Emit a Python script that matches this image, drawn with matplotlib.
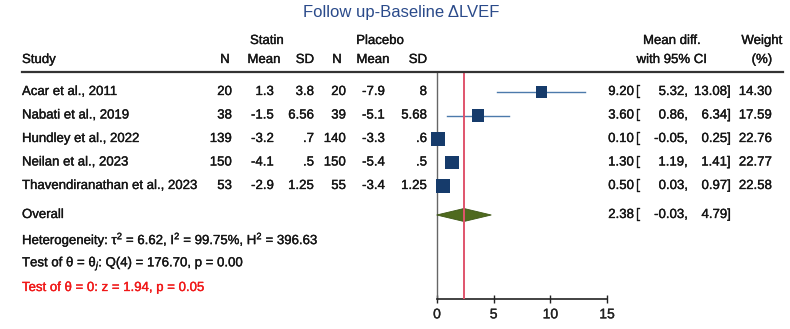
import matplotlib
matplotlib.use("Agg")
import matplotlib.pyplot as plt
import matplotlib.transforms as mtransforms
import matplotlib.patheffects as pe
from matplotlib.patches import Polygon

plt.rcParams['font.family'] = ['Liberation Sans', 'DejaVu Sans']
plt.rcParams['mathtext.fontset'] = 'custom'
plt.rcParams['mathtext.rm'] = 'Liberation Sans'
plt.rcParams['mathtext.it'] = 'Liberation Sans:italic'

# ---------------- data ----------------
studies = ["Acar et al., 2011", "Nabati et al., 2019", "Hundley et al., 2022",
           "Neilan et al., 2023", "Thavendiranathan et al., 2023"]
statin_n = ["20", "38", "139", "150", "53"]
statin_mean = ["1.3", "-1.5", "-3.2", "-4.1", "-2.9"]
statin_sd = ["3.8", "6.56", ".7", ".5", "1.25"]
placebo_n = ["20", "39", "140", "150", "55"]
placebo_mean = ["-7.9", "-5.1", "-3.3", "-5.4", "-3.4"]
placebo_sd = ["8", "5.68", ".6", ".5", "1.25"]
md = [9.20, 3.60, 0.10, 1.30, 0.50]
ci_low = [5.32, 0.86, -0.05, 1.19, 0.03]
ci_high = [13.08, 6.34, 0.25, 1.41, 0.97]
weights = [14.30, 17.59, 22.76, 22.77, 22.58]
overall_md = 2.38
overall_low = -0.03
overall_high = 4.79
xticks = [0, 5, 10, 15]
title = "Follow up-Baseline \u0394LVEF"
het_text = r"Heterogeneity: τ$^2$ = 6.62, I$^2$ = 99.75%, H$^2$ = 396.63"
q_text = r"Test of θ = θ$_j$: Q(4) = 176.70, p = 0.00"
z_text = "Test of θ = 0: z = 1.94, p = 0.05"

# ---------------- layout ----------------
W, H = 790, 329
fig = plt.figure(figsize=(W / 100, H / 100), dpi=100)
FS = 9.5

def fx(px):
    return px / W

def fy(py):
    return 1 - py / H

def thick(color, lw=0.25):
    return [pe.withStroke(linewidth=lw, foreground=color)]

ax_top, ax_bot = 72, 299
ax = fig.add_axes([fx(437), fy(ax_bot), fx(607) - fx(437), (ax_bot - ax_top) / H])
row_px0, row_step = 92, 23.5
rows = list(range(len(studies)))
overall_row = (215 - row_px0) / row_step
ax.set_ylim((ax_bot - row_px0) / row_step, (ax_top - row_px0) / row_step)
ax.set_xlim(0, 15)

sq_col = "#163B6B"
ci_col = "#4C7AAB"
txt_col = "#151515"

# CI lines and squares
for i in rows:
    ax.plot([ci_low[i], ci_high[i]], [i, i], color=ci_col, lw=1.0, zorder=2, clip_on=False)
ax.scatter(md, rows, s=[4.46 * w for w in weights], marker='s', color=sq_col,
           zorder=4, clip_on=False, linewidths=0)

# overall diamond
h = 6.5 / row_step
diamond = Polygon([(overall_low, overall_row), (overall_md, overall_row - h),
                   (overall_high, overall_row), (overall_md, overall_row + h)],
                  closed=True, facecolor="#4F6A1E", edgecolor="#3E5716", lw=0.6,
                  zorder=3, clip_on=False)
ax.add_patch(diamond)

# red overall line
ax.axvline(overall_md, color="#E0546C", lw=1.4, zorder=5)

# axes styling
for s in ['top', 'right']:
    ax.spines[s].set_visible(False)
ax.spines['left'].set_color("#666666")
ax.spines['left'].set_linewidth(1.0)
ax.spines['bottom'].set_color("#222222")
ax.spines['bottom'].set_linewidth(1.2)
ax.set_yticks([])
ax.set_xticks(xticks)
ax.tick_params(axis='x', direction='inout', length=6, width=1.0, colors="#222222",
               labelsize=10, pad=3)
for lab in ax.get_xticklabels():
    lab.set_path_effects(thick("#222222"))
ax.patch.set_visible(False)

# text helpers: x in figure px, y in data rows
trans = mtransforms.blended_transform_factory(fig.transFigure, ax.transData)

def rtext(px, row, s, ha='left', color=txt_col, size=FS):
    fig.text(fx(px), row, s, transform=trans, ha=ha, va='center', color=color,
             fontsize=size, path_effects=thick(color))

def ftext(px, py, s, ha='left', color=txt_col, size=FS, stroke=True):
    fig.text(fx(px), fy(py), s, ha=ha, va='center', color=color, fontsize=size,
             path_effects=thick(color) if stroke else None)

# title
ftext(401, 13, title, ha='center', color="#2A4A8A", size=12, stroke=False)

# headers
hdr1, hdr2 = 41, 60
ftext(267, hdr1, "Statin", ha='center')
ftext(380, hdr1, "Placebo", ha='center')
ftext(672, hdr1, "Mean diff.", ha='center')
ftext(762, hdr1, "Weight", ha='center')
ftext(22, hdr2, "Study")
for px, lab in [(225, "N"), (264, "Mean"), (305, "SD"), (337, "N"), (373, "Mean"), (418, "SD"),
                (672, "with 95% CI"), (762, "(%)")]:
    ftext(px, hdr2, lab, ha='center')

# header rule
fig.add_artist(plt.Line2D([fx(22), fx(783)], [fy(72), fy(72)], color="#333333", lw=1.6))

# study rows
for i in rows:
    rtext(22, i, studies[i])
    rtext(232, i, statin_n[i], ha='right')
    rtext(274, i, statin_mean[i], ha='right')
    rtext(314, i, statin_sd[i], ha='right')
    rtext(346, i, placebo_n[i], ha='right')
    rtext(385, i, placebo_mean[i], ha='right')
    rtext(427, i, placebo_sd[i], ha='right')
    rtext(634, i, f"{md[i]:.2f}", ha='right')
    rtext(636, i, "[", ha='left')
    rtext(688, i, f"{ci_low[i]:.2f},", ha='right')
    rtext(731, i, f"{ci_high[i]:.2f}]", ha='right')
    rtext(772, i, f"{weights[i]:.2f}", ha='right')

# overall row
rtext(22, overall_row, "Overall")
rtext(634, overall_row, f"{overall_md:.2f}", ha='right')
rtext(636, overall_row, "[", ha='left')
rtext(688, overall_row, f"{overall_low:.2f},", ha='right')
rtext(731, overall_row, f"{overall_high:.2f}]", ha='right')

# statistics lines
ftext(22, 240, het_text)
ftext(22, 264, q_text)
ftext(22, 288, z_text, color="#F01818")

fig.savefig("out.png", dpi=100, facecolor="white")
